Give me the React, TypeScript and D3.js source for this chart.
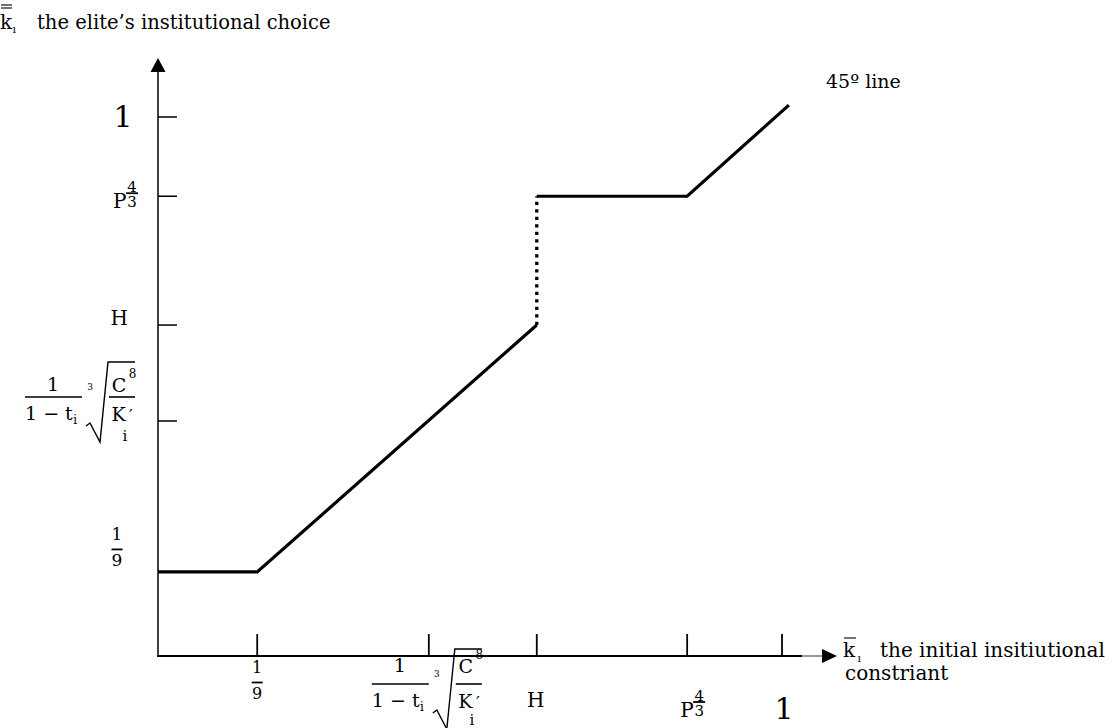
import React from 'react';
import * as d3 from 'd3';

// tick positions (0..1 along each axis)
const xTickKeys = ['ninth', 'root', 'H', 'P', 'one'];
const xTickValues = [0.159, 0.434, 0.607, 0.848, 1];
const yTickKeys = ['root', 'H', 'P', 'one'];
const yTickValues = [0.436, 0.614, 0.853, 1];
const floorLevel = 0.156; // the 1/9 level on the vertical

// the elite's choice as a function of the initial constraint
const lowBranch: [number, number][] = [[0, 0.156], [0.159, 0.156], [0.607, 0.614]];
const jumpBranch: [number, number][] = [[0.607, 0.614], [0.607, 0.853]];
const highBranch: [number, number][] = [[0.607, 0.853], [0.848, 0.853], [1.011, 1.022]];

const FONT = 'DejaVu Serif';

function RootFrac({ ox, oy, up, sub }: { ox: number; oy: number; up: number; sub: number }) {
  // 1/(1-t_i) * cuberoot(C^8 / K_i')
  return (
    <g fontFamily={FONT} fill="#000">
      <text x={ox + 28} y={oy + up} fontSize={19} textAnchor="middle">1</text>
      <line x1={ox} x2={ox + 57} y1={oy} y2={oy} stroke="#000" strokeWidth={1.6} />
      <text x={ox} y={oy + 23} fontSize={19}>
        1 − t<tspan fontSize={12} dx={0.5} dy={4}>i</tspan>
      </text>
      <text x={ox + 65} y={oy - 7} fontSize={9} textAnchor="middle">3</text>
      <path
        d={`M${ox + 61},${oy + 29} L${ox + 65},${oy + 26} L${ox + 75},${oy + 45} L${ox + 83},${oy - 35} L${ox + 110},${oy - 35}`}
        fill="none" stroke="#000" strokeWidth={1.4} />
      <text x={ox + 94} y={oy + up + 1} fontSize={19} textAnchor="middle">C</text>
      <text x={ox + 107.5} y={oy + up - 13} fontSize={12} textAnchor="middle">8</text>
      <line x1={ox + 84} x2={ox + 110} y1={oy} y2={oy} stroke="#000" strokeWidth={1.6} />
      <text x={ox + 93.5} y={oy + 24} fontSize={19} textAnchor="middle">K</text>
      <text x={ox + 100} y={oy + sub} fontSize={15} textAnchor="middle">i</text>
      <text x={ox + 106} y={oy + 24} fontSize={17} textAnchor="middle">′</text>
    </g>
  );
}

function PowP({ px, base, size, fs }: { px: number; base: number; size: number; fs: number }) {
  // P^(4/3)
  return (
    <g fontFamily={FONT} fill="#000">
      <text x={px} y={base} fontSize={size}>P</text>
      <text x={px + 19} y={base - 16.5} fontSize={fs} textAnchor="middle">4</text>
      <line x1={px + 13} x2={px + 25} y1={base - 15} y2={base - 15} stroke="#000" strokeWidth={1.8} />
      <text x={px + 19} y={base - 1} fontSize={fs} textAnchor="middle">3</text>
    </g>
  );
}

function Ninth({ cx, top, fs }: { cx: number; top: number; fs: number }) {
  // 1/9 stacked; top = baseline of the "1"
  return (
    <g fontFamily={FONT} fill="#000" fontSize={fs} textAnchor="middle">
      <text x={cx} y={top}>1</text>
      <line x1={cx - 5.5} x2={cx + 5.5} y1={top + 9.5} y2={top + 9.5} stroke="#000" strokeWidth={1.8} />
      <text x={cx} y={top + 26}>9</text>
    </g>
  );
}

export default function App() {
  const width = 1115;
  const height = 728;

  const x = d3.scaleLinear().domain([0, 1]).range([158, 782]);
  const y = d3.scaleLinear().domain([0, 1]).range([656, 117]);

  const line = d3.line<[number, number]>()
    .x(d => x(d[0]))
    .y(d => y(d[1]));

  const xt: Record<string, number> = {};
  xTickKeys.forEach((k, i) => (xt[k] = x(xTickValues[i])));
  const yt: Record<string, number> = {};
  yTickKeys.forEach((k, i) => (yt[k] = y(yTickValues[i])));
  const floorY = y(floorLevel);
  const x0 = x(0);
  const y0 = y(0);

  return (
    <svg width={width} height={height} style={{ position: 'absolute', left: 0, top: 0, background: '#fff' }}>
      {/* axes */}
      <line x1={x0} x2={x0} y1={71} y2={y0 + 1} stroke="#000" strokeWidth={1.5} />
      <polygon points={`${x0},58 ${x0 - 7.5},72 ${x0 + 7.5},72`} fill="#000" />
      <line x1={x0 - 1} x2={802} y1={y0} y2={y0} stroke="#000" strokeWidth={1.8} />
      <line x1={802} x2={823} y1={y0} y2={y0} stroke="#444" strokeWidth={1.1} />
      <polygon points={`837,${y0} 822,${y0 - 7} 822,${y0 + 7}`} fill="#000" />

      {/* ticks */}
      {xTickValues.map((v, i) => (
        <line key={'xt' + i} x1={x(v)} x2={x(v)} y1={y0 - 22} y2={y0} stroke="#000" strokeWidth={1.8} />
      ))}
      {yTickValues.map((v, i) => (
        <line key={'yt' + i} x1={x0} x2={x0 + 19} y1={y(v)} y2={y(v)} stroke="#000" strokeWidth={1.5} />
      ))}

      {/* the curve */}
      <path d={line(lowBranch) || ''} fill="none" stroke="#000" strokeWidth={3.2} />
      <path d={line(jumpBranch) || ''} fill="none" stroke="#000" strokeWidth={3.3} strokeDasharray="3.3 4.2" />
      <path d={line(highBranch) || ''} fill="none" stroke="#000" strokeWidth={3.2} />

      {/* y labels */}
      <text x={123} y={yt.one + 10} fontFamily={FONT} fontSize={30} textAnchor="middle">1</text>
      <PowP px={113} base={yt.P + 12} size={20} fs={15} />
      <text x={128} y={yt.H} fontFamily={FONT} fontSize={20} textAnchor="end">H</text>
      <RootFrac ox={25} oy={yt.root - 24} up={-6} sub={44} />
      <Ninth cx={117} top={floorY - 32} fs={17} />

      {/* x labels */}
      <Ninth cx={xt.ninth} top={673} fs={16} />
      <RootFrac ox={xt.root - 57} oy={684} up={-12} sub={41} />
      <text x={xt.H - 1} y={707} fontFamily={FONT} fontSize={20} textAnchor="middle">H</text>
      <PowP px={xt.P - 7} base={717} size={20} fs={15} />
      <text x={xt.one + 2} y={719} fontFamily={FONT} fontSize={30} textAnchor="middle">1</text>

      {/* titles */}
      <g fontFamily={FONT} fill="#000">
        <text x={0} y={29} fontSize={20}>k</text>
        <line x1={1} x2={12} y1={5} y2={5} stroke="#000" strokeWidth={1.1} />
        <line x1={1} x2={12} y1={8} y2={8} stroke="#000" strokeWidth={1.1} />
        <text x={12.5} y={33} fontSize={11}>ı</text>
        <text x={37} y={29} fontSize={19.5}>the elite’s institutional choice</text>

        <text x={843} y={657} fontSize={20}>k</text>
        <line x1={844} x2={856} y1={638} y2={638} stroke="#000" strokeWidth={1.1} />
        <text x={857.5} y={662} fontSize={11}>ı</text>
        <text x={880} y={657} fontSize={20}>the initial insitiutional</text>
        <text x={845} y={680} fontSize={20}>constriant</text>

        <text x={826} y={88} fontSize={19}>45º line</text>
      </g>
    </svg>
  );
}
